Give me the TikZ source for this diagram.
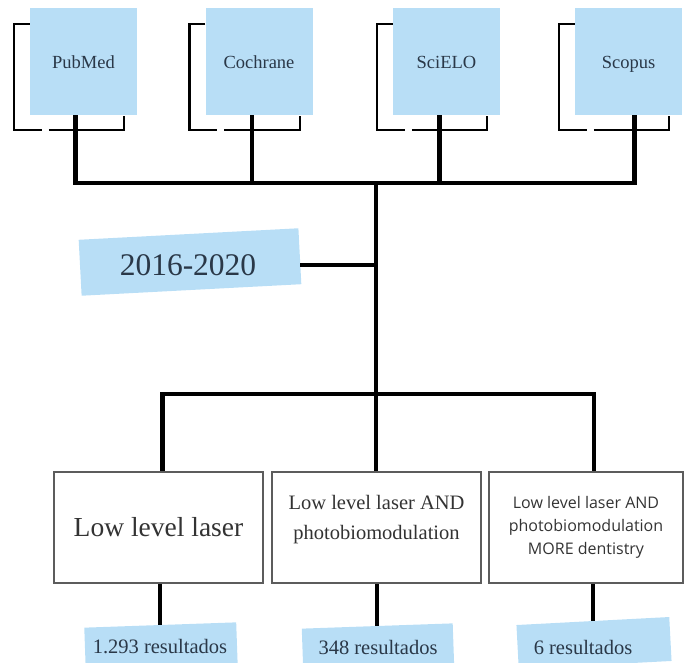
\documentclass[tikz,border=0pt]{standalone}
\usepackage{fontspec}
\setmainfont{Liberation Serif}
\newfontfamily\timesfont{Liberation Serif}
\newfontfamily\opensans{Open Sans}
\usetikzlibrary{positioning}

\definecolor{skyblue}{HTML}{B8DEF6}
\definecolor{inkblue}{HTML}{2A3848}
\definecolor{boxgray}{HTML}{5C5C5C}

\tikzset{
  db/.style={fill=skyblue, minimum width=107pt, minimum height=107pt, inner sep=0pt,
    text height=16pt, text depth=2pt,
    text=inkblue, font=\timesfont\fontsize{18.5}{20}\selectfont},
  bracket/.style={line width=2.4pt, black},
  bus/.style={line width=4.6pt, black},
  link/.style={line width=3.6pt, black},
  query/.style={draw=boxgray, line width=1.6pt, minimum height=111pt, inner sep=2pt,
    text=black!80, align=center},
  tape/.style={fill=skyblue, inner sep=0pt, minimum height=44pt},
  tapetext/.style={text=inkblue, font=\timesfont\fontsize{20.5}{22}\selectfont},
}

\begin{document}
\begin{tikzpicture}[x=1pt,y=-1pt]
  \useasboundingbox (0,0) rectangle (686,663);

  % databases
  \node[db] (pubmed) at (83.5,61.5) {PubMed};
  \node[db] (cochrane) at (259,61.5) {Cochrane};
  \node[db] (scielo) at (446.5,61.5) {SciELO};
  \node[db] (scopus) at (628.5,61.5) {Scopus};

  \foreach \db in {pubmed,cochrane,scielo,scopus}{
    \draw[bracket] ([yshift=-16pt]\db.north west) -| ([xshift=-16pt,yshift=-15pt]\db.south west)
      -- ([xshift=12pt,yshift=-15pt]\db.south west);
    \draw[bracket] ([xshift=19pt,yshift=-15pt]\db.south west) -| ([xshift=-13pt,yshift=-1pt]\db.south east);
  }

  \coordinate (hub) at (376,183);
  \draw[bus] ([xshift=-8pt]pubmed.south) |- (hub);
  \draw[bus] ([xshift=-7pt]cochrane.south) |- (hub);
  \draw[bus] ([xshift=-7pt]scielo.south) |- (hub);
  \draw[bus] ([xshift=6pt]scopus.south) |- (hub);

  % period
  \node[tape, rotate=3, minimum width=220pt, minimum height=56pt] (datebg) at (190,262) {};
  \node[text=inkblue, font=\timesfont\fontsize{31.5}{34}\selectfont] (date) at (188,265) {2016-2020};
  \draw[link] (date.east -| datebg.east) -- (date.east -| hub);

  \coordinate (split) at (376,394);
  \draw[link] (hub) -- (split);

  % search strings
  \node[query, minimum width=209pt, font=\timesfont\fontsize{27.5}{30}\selectfont] (q1) at (158.5,527.5) {Low level laser};
  \node[query, minimum width=209pt, font=\timesfont\fontsize{20.5}{30}\selectfont, text depth=20pt] (q2) at (376.5,527.5)
    {Low level laser AND\\photobiomodulation};
  \node[query, minimum width=194pt, font=\opensans\fontsize{16}{23}\selectfont] (q3) at (586,527.5)
    {Low level laser AND\\photobiomodulation\\MORE dentistry};

  \draw[bus] (split) -| ([xshift=4pt]q1.north);
  \draw[bus] (split) -- (split |- q2.north);
  \draw[bus] (split) -| ([xshift=8pt]q3.north);

  % results
  \node[tape, rotate=2, minimum width=152pt] (res1bg) at (161,647) {};
  \node[tapetext] (res1) at (160,647) {1.293 resultados};
  \node[tape, rotate=2, minimum width=151pt] (res2bg) at (378,648) {};
  \node[tapetext] (res2) at (378,647) {348 resultados};
  \node[tape, rotate=3, minimum width=153pt] (res3bg) at (594,643) {};
  \node[tapetext] (res3) at (583,647) {6 resultados};

  \draw[link] (res1bg.north) -- (res1bg.north |- q1.south);
  \draw[link] (res2bg.north) -- (res2bg.north |- q2.south);
  \draw[link] (res3bg.north) -- (res3bg.north |- q3.south);
\end{tikzpicture}
\end{document}
